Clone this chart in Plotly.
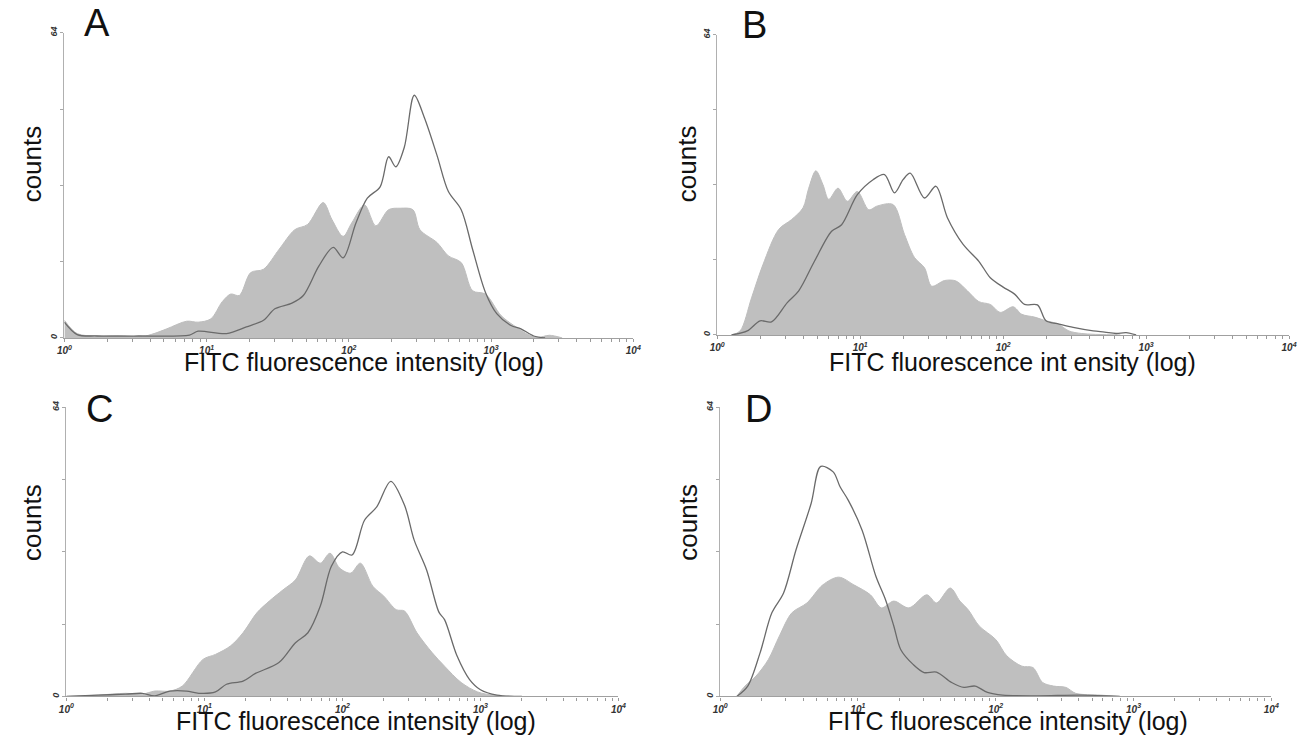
import numpy as np
import plotly.graph_objects as go

# ---------------- data (log10 intensity positions, counts) ----------------
a_gray_logx = [0.00, 0.09, 0.23, 0.37, 0.55, 0.63, 0.72, 0.86, 0.94, 1.03, 1.11, 1.17, 1.23, 1.31, 1.40, 1.51, 1.62, 1.71, 1.82, 1.88, 1.96, 2.02, 2.11, 2.19, 2.28, 2.36, 2.45, 2.50, 2.62, 2.70, 2.79, 2.87, 2.96, 3.07, 3.16, 3.27, 3.33, 3.41, 3.50]
a_gray_counts = [3.7, 0.9, 0.4, 0.5, 0.3, 0.9, 1.9, 3.5, 3.3, 4.0, 7.6, 9.2, 8.9, 13.7, 14.4, 18.6, 22.7, 23.8, 28.4, 24.9, 21.3, 24.1, 27.9, 23.5, 26.9, 27.2, 26.9, 22.7, 20.0, 17.2, 15.8, 9.9, 9.2, 4.7, 2.6, 0.55, 0.1, 0.55, 0.0]
a_line_logx = [0.00, 0.09, 0.23, 0.52, 0.88, 0.94, 1.14, 1.28, 1.40, 1.48, 1.60, 1.68, 1.79, 1.89, 1.96, 2.05, 2.13, 2.22, 2.28, 2.33, 2.39, 2.46, 2.53, 2.62, 2.70, 2.79, 2.87, 2.96, 3.04, 3.14, 3.21, 3.30, 3.38]
a_line_counts = [3.3, 0.7, 0.4, 0.4, 0.6, 1.4, 0.9, 2.3, 3.7, 6.1, 7.3, 8.9, 15.1, 19.0, 16.8, 24.1, 29.3, 31.7, 38.0, 35.9, 40.0, 50.9, 46.3, 38.3, 30.7, 26.9, 18.6, 9.6, 5.1, 2.6, 1.9, 0.4, 0.0]

b_gray_logx = [0.10, 0.16, 0.24, 0.32, 0.43, 0.52, 0.60, 0.64, 0.69, 0.74, 0.78, 0.845, 0.91, 0.98, 1.06, 1.12, 1.23, 1.31, 1.38, 1.45, 1.50, 1.59, 1.67, 1.75, 1.83, 1.91, 1.98, 2.07, 2.13, 2.22, 2.30, 2.38, 2.46, 2.55, 2.82]
b_gray_counts = [0.0, 0.85, 7.9, 15.0, 22.5, 24.6, 27.1, 31.3, 35.0, 32.0, 28.9, 31.3, 28.5, 30.6, 26.7, 27.5, 27.8, 21.4, 16.5, 14.3, 10.4, 11.6, 11.5, 9.4, 7.1, 6.5, 4.8, 6.0, 4.4, 3.8, 3.0, 2.4, 0.85, 0.3, 0.0]
b_line_logx = [0.10, 0.21, 0.30, 0.38, 0.49, 0.57, 0.68, 0.80, 0.87, 0.98, 1.09, 1.17, 1.24, 1.30, 1.35, 1.45, 1.53, 1.61, 1.72, 1.83, 1.91, 2.00, 2.08, 2.15, 2.24, 2.30, 2.38, 2.49, 2.63, 2.71, 2.79, 2.86, 2.93]
b_line_counts = [0.0, 0.85, 3.0, 2.8, 6.9, 9.4, 15.7, 22.1, 23.5, 29.9, 33.1, 34.2, 30.3, 33.1, 34.5, 29.2, 31.7, 25.0, 19.3, 15.7, 12.2, 10.2, 8.7, 6.5, 6.4, 3.0, 2.4, 1.6, 0.85, 0.6, 0.3, 0.5, 0.0]

c_gray_logx = [0.00, 0.23, 0.43, 0.55, 0.64, 0.75, 0.84, 0.99, 1.08, 1.19, 1.28, 1.38, 1.47, 1.57, 1.66, 1.76, 1.84, 1.91, 1.98, 2.06, 2.13, 2.22, 2.30, 2.39, 2.45, 2.54, 2.65, 2.74, 2.86, 2.98, 3.09, 3.24]
c_gray_counts = [0.0, 0.3, 0.7, 0.5, 1.2, 1.2, 2.3, 8.2, 9.3, 11.2, 14.1, 18.5, 21.1, 23.6, 25.8, 31.1, 29.5, 31.7, 28.4, 27.3, 29.5, 24.4, 22.2, 19.2, 18.9, 14.1, 9.7, 6.7, 3.1, 1.0, 0.3, 0.0]
c_line_logx = [0.00, 0.23, 0.43, 0.55, 0.64, 0.75, 0.87, 0.96, 1.08, 1.16, 1.28, 1.37, 1.54, 1.66, 1.75, 1.84, 1.92, 2.00, 2.07, 2.16, 2.25, 2.35, 2.45, 2.52, 2.61, 2.70, 2.74, 2.83, 2.92, 3.00, 3.12, 3.30]
c_line_counts = [0.0, 0.3, 0.5, 0.7, 0.15, 1.2, 1.2, 0.7, 1.0, 2.7, 3.4, 5.1, 7.5, 11.9, 14.1, 20.0, 28.8, 32.0, 31.3, 39.0, 42.0, 47.6, 42.3, 34.6, 28.0, 18.6, 17.0, 9.0, 3.8, 1.5, 0.3, 0.0]

d_gray_logx = [0.12, 0.18, 0.26, 0.35, 0.43, 0.52, 0.63, 0.745, 0.86, 0.97, 1.09, 1.17, 1.26, 1.37, 1.50, 1.57, 1.67, 1.74, 1.80, 1.88, 2.00, 2.08, 2.19, 2.27, 2.34, 2.42, 2.51, 2.58, 2.76, 2.90]
d_gray_counts = [0.0, 2.3, 4.5, 8.2, 13.4, 18.5, 20.7, 24.7, 26.4, 24.7, 22.5, 19.6, 21.1, 19.6, 22.5, 20.7, 24.0, 21.1, 19.2, 15.6, 12.6, 9.0, 6.7, 6.4, 3.1, 2.3, 2.0, 0.7, 0.3, 0.0]
d_line_logx = [0.12, 0.20, 0.29, 0.375, 0.46, 0.55, 0.66, 0.73, 0.82, 0.87, 0.93, 1.03, 1.13, 1.20, 1.26, 1.31, 1.40, 1.48, 1.57, 1.68, 1.77, 1.85, 1.94, 2.05, 2.30, 2.62, 2.90]
d_line_counts = [0.0, 2.3, 9.7, 18.5, 22.9, 32.4, 42.7, 50.9, 49.7, 46.4, 43.4, 36.8, 26.6, 21.4, 15.6, 10.4, 7.1, 5.3, 5.4, 3.1, 2.0, 2.3, 0.9, 0.3, 0.15, 0.3, 0.0]

panel_letters = ["A", "B", "C", "D"]
x_titles = ["FITC fluorescence intensity (log)", "FITC fluorescence int ensity (log)",
            "FITC fluorescence intensity (log)", "FITC fluorescence intensity (log)"]
y_title = "counts"
x_tickvals = [1, 10, 100, 1000, 10000]
x_ticktext = ["10<sup>0</sup>", "10<sup>1</sup>", "10<sup>2</sup>", "10<sup>3</sup>", "10<sup>4</sup>"]
y_tickvals = [0, 16, 32, 48, 64]
y_ticktext = ["0", "", "", "", "64"]

# ---------------- layout geometry (pixels of the target picture) ----------------
PAGE_W, PAGE_H = 1311, 754
BODY = 8                      # default page body margin
W, H = PAGE_W - 2 * BODY, PAGE_H - 2 * BODY


def px(x):
    return (x - BODY) / W


def py(y):
    return 1 - (y - BODY) / H


# (left, right, top, bottom) of each plot area
boxes = [(57, 633, 27, 335), (718, 1297, 29, 332), (59, 618, 405, 697), (721, 1279, 405, 697)]
letter_pos = [(90, 17), (756, 19), (93, 407), (760, 407)]
title_y = [359, 359, 722, 722]
title_x = [360, 1017, 352, 1012]
counts_pos = [(24, 159), (687, 159), (24, 521), (689, 521)]

series = [
    (a_gray_logx, a_gray_counts, a_line_logx, a_line_counts),
    (b_gray_logx, b_gray_counts, b_line_logx, b_line_counts),
    (c_gray_logx, c_gray_counts, c_line_logx, c_line_counts),
    (d_gray_logx, d_gray_counts, d_line_logx, d_line_counts),
]

FONT = "Liberation Sans, Arial, sans-serif"
fig = go.Figure()
annotations = []
layout_axes = {}

for i, ((gx, gy, lx, ly), (l, r, t, b)) in enumerate(zip(series, boxes)):
    n = i + 1
    xa = "x" if n == 1 else f"x{n}"
    ya = "y" if n == 1 else f"y{n}"
    fig.add_trace(go.Scatter(
        x=np.power(10.0, gx), y=gy, xaxis=xa, yaxis=ya, mode="lines",
        line=dict(color="#bdbdbd", width=1, shape="spline", smoothing=0.9),
        fill="tozeroy", fillcolor="#bfbfbf", showlegend=False, hoverinfo="skip"))
    fig.add_trace(go.Scatter(
        x=np.power(10.0, lx), y=ly, xaxis=xa, yaxis=ya, mode="lines",
        line=dict(color="#6a6a6a", width=1.3, shape="spline", smoothing=0.9),
        showlegend=False, hoverinfo="skip"))

    xkey = "xaxis" if n == 1 else f"xaxis{n}"
    ykey = "yaxis" if n == 1 else f"yaxis{n}"
    layout_axes[xkey] = dict(
        domain=[px(l), px(r)], anchor=ya, type="log", range=[0, 4],
        tickvals=x_tickvals, ticktext=x_ticktext,
        ticks="outside", ticklen=3, tickcolor="#9a9a9a", tickwidth=1,
        minor=dict(ticks="outside", ticklen=3, tickcolor="#9a9a9a", dtick="D1", showgrid=False),
        showline=True, linecolor="#a0a0a0", linewidth=1.2,
        showgrid=False, zeroline=False,
        tickfont=dict(family=FONT, size=10, color="#333333", style="italic", weight="bold"),
    )
    layout_axes[ykey] = dict(
        domain=[py(b), py(t)], anchor=xa, range=[0, 64],
        tickvals=y_tickvals, ticktext=y_ticktext, tickangle=-90,
        ticks="outside", ticklen=3, tickcolor="#a8a8a8",
        showline=True, linecolor="#b0b0b0", linewidth=1,
        showgrid=False, zeroline=False,
        tickfont=dict(family=FONT, size=9, color="#333333", style="italic", weight="bold"),
    )
    annotations.append(dict(text=panel_letters[i], xref="paper", yref="paper",
                            x=px(letter_pos[i][0]), y=py(letter_pos[i][1]),
                            xanchor="center", yanchor="middle", showarrow=False,
                            font=dict(family=FONT, size=38, color="#111111")))
    annotations.append(dict(text=x_titles[i], xref="paper", yref="paper",
                            x=px(title_x[i]), y=py(title_y[i]),
                            xanchor="center", yanchor="middle", showarrow=False,
                            font=dict(family=FONT, size=25, color="#111111")))
    annotations.append(dict(text=y_title, xref="paper", yref="paper",
                            x=px(counts_pos[i][0]), y=py(counts_pos[i][1]),
                            xanchor="center", yanchor="middle", textangle=-90, showarrow=False,
                            font=dict(family=FONT, size=26, color="#111111")))

fig.update_layout(width=W, height=H, margin=dict(l=0, r=0, t=0, b=0),
                  paper_bgcolor="white", plot_bgcolor="white",
                  annotations=annotations, **layout_axes)
fig.write_html("out.html")
